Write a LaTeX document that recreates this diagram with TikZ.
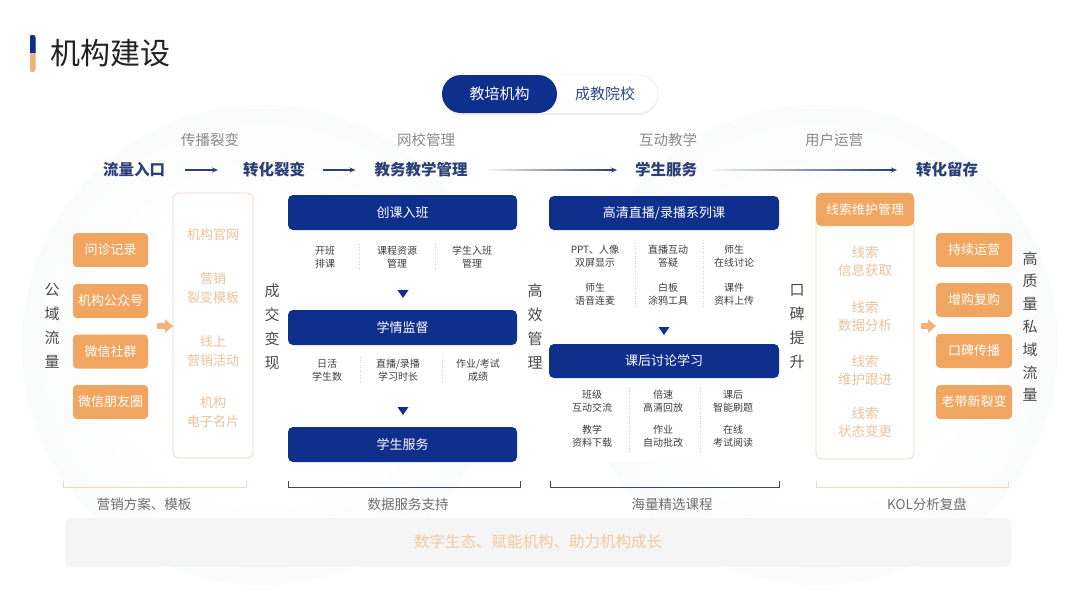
\documentclass[tikz,border=0pt]{standalone}
\usepackage{fontspec}
\setmainfont{Noto Sans CJK SC}
\usetikzlibrary{arrows.meta,shadows}
\definecolor{navy}{HTML}{0F2F8C}
\definecolor{hblue}{HTML}{2D3F77}
\definecolor{hgray}{HTML}{8A8A8A}
\definecolor{org}{HTML}{F0A660}
\definecolor{orgbar}{HTML}{F0B27A}
\definecolor{orgarr}{HTML}{F3B27A}
\definecolor{orgl}{HTML}{F0D9BF}
\definecolor{orgt}{HTML}{EAC39B}
\definecolor{dtext}{HTML}{3E3E3E}
\definecolor{vtext}{HTML}{4A4A4A}
\definecolor{ttext}{HTML}{222222}
\definecolor{bgg}{HTML}{EBEDF0}
\definecolor{bgm}{HTML}{F6F7F8}
\definecolor{brk}{HTML}{3A4770}
\definecolor{blgray}{HTML}{6E6E6E}
\definecolor{bandfill}{HTML}{F5F5F6}
\definecolor{bandtext}{HTML}{F2C9A0}
\definecolor{togtext}{HTML}{2E4A8C}
\newcommand{\fs}[2]{\fontsize{#1}{#2}\selectfont}
\pgfdeclareradialshading{ringshade}{\pgfpoint{0bp}{0bp}}{color(0bp)=(white); color(16bp)=(white); color(32bp)=(bgm); color(44bp)=(bgg); color(50bp)=(bgg)}
\begin{document}
\begin{tikzpicture}[x=1pt,y=-1pt,
  every node/.style={inner sep=0pt, outer sep=0pt},
  ttl/.style={font=\fs{30}{34}, text=ttext},
  hg/.style={font=\fs{14.5}{17}, text=hgray},
  hb/.style={font=\bfseries\fs{15.5}{18}, text=hblue},
  harrow/.style={draw=hblue, line width=1.1pt, -{Stealth[length=6pt,width=5pt]}},
  navybox/.style={fill=navy, rounded corners=5pt, minimum width=229pt, minimum height=35pt, text=white, font=\fs{13}{15}},
  subtxt/.style={font=\fs{10}{13}, text=dtext, align=center},
  sepline/.style={draw=gray!35, dash pattern=on 1pt off 1.5pt, line width=0.6pt},
  vlab/.style={font=\fs{15}{24}, text=vtext, align=center},
  obox/.style={fill=org, rounded corners=4pt, minimum width=75pt, minimum height=34pt, text=white, font=\fs{13}{15}},
  oline/.style={draw=orgl, line width=0.8pt, rounded corners=6pt, fill=white},
  otext/.style={font=\fs{13}{19}, text=orgt, align=center},
  oarrow/.style={draw=orgarr, line width=6pt, -{Triangle[length=8pt,width=13pt]}},
  brko/.style={draw=orgl, line width=1pt},
  brkb/.style={draw=brk, line width=1pt},
  blab/.style={font=\fs{13.5}{16}, text=blgray},
]
\useasboundingbox (0,0) rectangle (1080,608);
\fill[white] (0,0) rectangle (1080,608);

% background circles
\shade[shading=ringshade] (262,345) circle[radius=240pt];
\shade[shading=ringshade] (818,345) circle[radius=240pt];
\fill[white] (286,195) rectangle (520,464);
\fill[white] (547,196) rectangle (781,462);

% title
\begin{scope}
  \clip[rounded corners=2.5pt] (29.5,35) rectangle (35.5,72);
  \fill[orgbar] (29.5,35) rectangle (35.5,72);
  \fill[navy] (29.5,35) rectangle (35.5,53);
\end{scope}
\node[ttl] (title) at (110,53) {机构建设};

% toggle
\node[fill=white, draw=gray!18, rounded corners=19pt, minimum width=216pt, minimum height=38pt,
      drop shadow={opacity=0.12, shadow xshift=0pt, shadow yshift=-2pt}] (tog) at (550,94) {};
\node[fill=navy, rounded corners=19pt, minimum width=115pt, minimum height=38pt, text=white, font=\fs{15}{17}] (tog1) at (499.5,94) {教培机构};
\node[text=togtext, font=\fs{15}{17}] (tog2) at (605,94) {成教院校};

% header row
\node[hg] (g1) at (210,140) {传播裂变};
\node[hg] (g2) at (426,140) {网校管理};
\node[hg] (g3) at (668,140) {互动教学};
\node[hg] (g4) at (834,140) {用户运营};
\node[hb] (h1) at (134,170) {流量入口};
\node[hb] (h2) at (274,170) {转化裂变};
\node[hb] (h3) at (421,170) {教务教学管理};
\node[hb] (h4) at (666,170) {学生服务};
\node[hb] (h5) at (947,170) {转化留存};
\draw[harrow, shorten <=20pt, shorten >=25pt] (h1) -- (h2);
\draw[harrow, shorten <=18pt, shorten >=19pt] (h2) -- (h3);
\shade[left color=gray!8, right color=hblue] ([xshift=20pt,yshift=-0.55pt]h3.east) rectangle ([xshift=-24pt,yshift=0.55pt]h4.west);
\draw[harrow, shorten >=18pt] ([xshift=-26pt]h4.west) -- (h4.west);
\shade[left color=gray!8, right color=hblue] ([xshift=15pt,yshift=-0.55pt]h4.east) rectangle ([xshift=-25pt,yshift=0.55pt]h5.west);
\draw[harrow, shorten >=19pt] ([xshift=-27pt]h5.west) -- (h5.west);

% left column
\node[vlab] (v1) at (52,326) {公\\域\\流\\量};
\node[obox] (l1) at (110.5,250) {问诊记录};
\node[obox] (l2) at (110.5,301) {机构公众号};
\node[obox] (l3) at (110.5,351.5) {微信社群};
\node[obox] (l4) at (110.5,402) {微信朋友圈};
\node[oline, minimum width=80pt, minimum height=265pt] (ol1) at (213,325.5) {};
\node[otext] (o11) at (213,235) {机构官网};
\node[otext] (o12) at (213,288) {营销\\裂变模板};
\node[otext] (o13) at (213,351.5) {线上\\营销活动};
\node[otext] (o14) at (213,412.5) {机构\\电子名片};
\coordinate (oa1) at (157,326);
\draw[oarrow] (oa1) -- (oa1 -| ol1.west);
\node[vlab] (v2) at (272,327) {成\\交\\变\\现};

% middle-left column
\node[navybox] (b1) at (402.5,212.5) {创课入班};
\node[navybox] (b2) at (402.5,327.5) {学情监督};
\node[navybox] (b3) at (402.5,444.5) {学生服务};
\node[subtxt] (s11) at (325,257) {开班\\排课};
\node[subtxt] (s12) at (397,257) {课程资源\\管理};
\node[subtxt] (s13) at (472,257) {学生入班\\管理};
\draw[sepline] (359,244) -- (359,270);
\draw[sepline] (435,244) -- (435,270);
\node[subtxt] (s21) at (327,370) {日活\\学生数};
\node[subtxt] (s22) at (398,370) {直播/录播\\学习时长};
\node[subtxt] (s23) at (478,370) {作业/考试\\成绩};
\draw[sepline] (360,357) -- (360,383);
\draw[sepline] (442,357) -- (442,383);
\fill[navy] (397.5,290) -- (408.5,290) -- (403,298) -- cycle;
\fill[navy] (397.5,407) -- (408.5,407) -- (403,415) -- cycle;
\node[vlab] (v3) at (535,327) {高\\效\\管\\理};

% middle-right column
\node[navybox, minimum width=230pt, minimum height=34pt] (b4) at (664,213) {高清直播/录播系列课};
\node[navybox, minimum width=230pt, minimum height=34pt] (b5) at (664,361) {课后讨论学习};
\node[subtxt] (s31) at (595,256.5) {PPT、人像\\双屏显示};
\node[subtxt] (s32) at (668,256.5) {直播互动\\答疑};
\node[subtxt] (s33) at (734,256.5) {师生\\在线讨论};
\node[subtxt] (s41) at (595,294.5) {师生\\语音连麦};
\node[subtxt] (s42) at (668,294.5) {白板\\涂鸦工具};
\node[subtxt] (s43) at (734,294.5) {课件\\资料上传};
\draw[sepline] (635,243) -- (635,308);
\draw[sepline] (703,243) -- (703,308);
\fill[navy] (658.5,327) -- (669.5,327) -- (664,335) -- cycle;
\node[subtxt] (s51) at (592,401) {班级\\互动交流};
\node[subtxt] (s52) at (663,401) {倍速\\高清回放};
\node[subtxt] (s53) at (733,401) {课后\\智能刷题};
\node[subtxt] (s61) at (592,436) {教学\\资料下载};
\node[subtxt] (s62) at (663,436) {作业\\自动批改};
\node[subtxt] (s63) at (733,436) {在线\\考试阅读};
\draw[sepline] (629,388) -- (629,452);
\draw[sepline] (700,388) -- (700,452);
\node[vlab] (v4) at (797,327) {口\\碑\\提\\升};

% right column
\node[oline, minimum width=98pt, minimum height=266pt] (or1) at (865,326) {};
\node[fill=org, rounded corners=5pt, minimum width=98pt, minimum height=33pt, text=white, font=\fs{13}{15}] (rh) at (865,209.5) {线索维护管理};
\node[otext, font=\fs{13.5}{18}] (r11) at (865,261) {线索\\信息获取};
\node[otext, font=\fs{13.5}{18}] (r12) at (865,316) {线索\\数据分析};
\node[otext, font=\fs{13.5}{18}] (r13) at (865,370) {线索\\维护跟进};
\node[otext, font=\fs{13.5}{18}] (r14) at (865,422.5) {线索\\状态变更};
\node[obox, minimum width=76pt] (r1) at (974,250) {持续运营};
\node[obox, minimum width=76pt] (r2) at (974,300) {增购复购};
\node[obox, minimum width=76pt] (r3) at (974,351) {口碑传播};
\node[obox, minimum width=76pt] (r4) at (974,402) {老带新裂变};
\coordinate (oa2) at (921,326);
\draw[oarrow] (oa2) -- (oa2 -| r1.west);
\node[vlab, font=\fs{15}{22.8}] (v5) at (1030,326.5) {高\\质\\量\\私\\域\\流\\量};

% brackets
\draw[brko] (63,481) -- (63,487) -- (246,487) -- (246,481);
\draw[brkb] (288,481) -- (288,487) -- (520,487) -- (520,481);
\draw[brkb] (550,481) -- (550,487) -- (779,487) -- (779,481);
\draw[brko] (816,481) -- (816,487) -- (1008,487) -- (1008,481);
\node[blab] (k1) at (144,504) {营销方案、模板};
\node[blab] (k2) at (408,504) {数据服务支持};
\node[blab] (k3) at (672,504) {海量精选课程};
\node[blab] (k4) at (927,504) {KOL分析复盘};

% bottom band
\node[fill=bandfill, rounded corners=6pt, minimum width=946pt, minimum height=47pt,
      drop shadow={opacity=0.05, shadow xshift=0pt, shadow yshift=-2pt},
      text=bandtext, font=\fs{15.5}{18}] (band) at (538,541.5) {数字生态、赋能机构、助力机构成长};
\end{tikzpicture}
\end{document}
